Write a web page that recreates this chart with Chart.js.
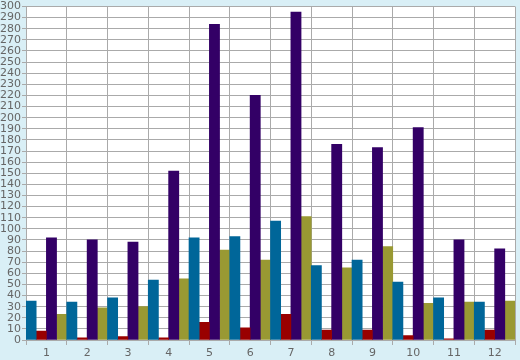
<!DOCTYPE html>
<html>
<head>
<meta charset="utf-8">
<script src="https://cdn.jsdelivr.net/npm/chart.js@4/dist/chart.umd.min.js"></script>
<style>
	html, body { margin: 0; padding: 0; background: #d9eff6; }
	#wrap { width: 520px; height: 360px; }
</style>
</head>
<body>
<div id="wrap"><canvas id="barChart" width="520" height="360"></canvas></div>
<script>
var categories = ["1", "2", "3", "4", "5", "6", "7", "8", "9", "10", "11", "12"];
var blueValues = [35, 34, 38, 54, 92, 93, 107, 67, 72, 52, 38, 34];
var redValues = [8, 2, 3, 2, 16, 11, 23, 9, 9, 4, 1, 9];
var purpleValues = [92, 90, 88, 152, 284, 220, 295, 176, 173, 191, 90, 82];
var oliveValues = [23, 29, 30, 55, 81, 72, 111, 65, 84, 33, 34, 35];

var plotBg = {
	id: 'plotBg',
	beforeDraw: function (chart) {
		var c = chart.ctx, a = chart.chartArea;
		c.save();
		c.fillStyle = '#d9eff6';
		c.fillRect(0, 0, chart.width, chart.height);
		c.fillStyle = '#ffffff';
		c.fillRect(a.left, a.top, a.right - a.left, a.bottom - a.top);
		c.restore();
	}
};

var tickFont = { family: 'DejaVu Sans', size: 11, lineHeight: 1 };

new Chart(document.getElementById('barChart').getContext('2d'), {
	type: 'bar',
	plugins: [plotBg],
	data: {
		labels: categories,
		datasets: [
			{ data: blueValues, backgroundColor: '#006699' },
			{ data: redValues, backgroundColor: '#990000' },
			{ data: purpleValues, backgroundColor: '#330066' },
			{ data: oliveValues, backgroundColor: '#999933' }
		]
	},
	options: {
		responsive: false,
		animation: false,
		layout: { padding: { top: 5, right: 5, left: 0, bottom: 0 } },
		datasets: { bar: { barPercentage: 1, categoryPercentage: 1, borderWidth: 0 } },
		plugins: { legend: { display: false }, tooltip: { enabled: false } },
		scales: {
			x: {
				grid: { color: '#aaaaaa', lineWidth: 1, tickLength: 5, offset: true },
				border: { color: '#aaaaaa' },
				ticks: { color: '#666666', font: tickFont, padding: 3, maxRotation: 0 },
				afterFit: function (s) { s.height = 20; }
			},
			y: {
				min: 0,
				max: 300,
				grid: { color: '#aaaaaa', lineWidth: 1, tickLength: 4 },
				border: { color: '#aaaaaa' },
				ticks: { stepSize: 10, color: '#666666', font: tickFont, padding: 1, autoSkip: false },
				afterFit: function (s) { s.width = 26; }
			}
		}
	}
});
</script>
</body>
</html>
